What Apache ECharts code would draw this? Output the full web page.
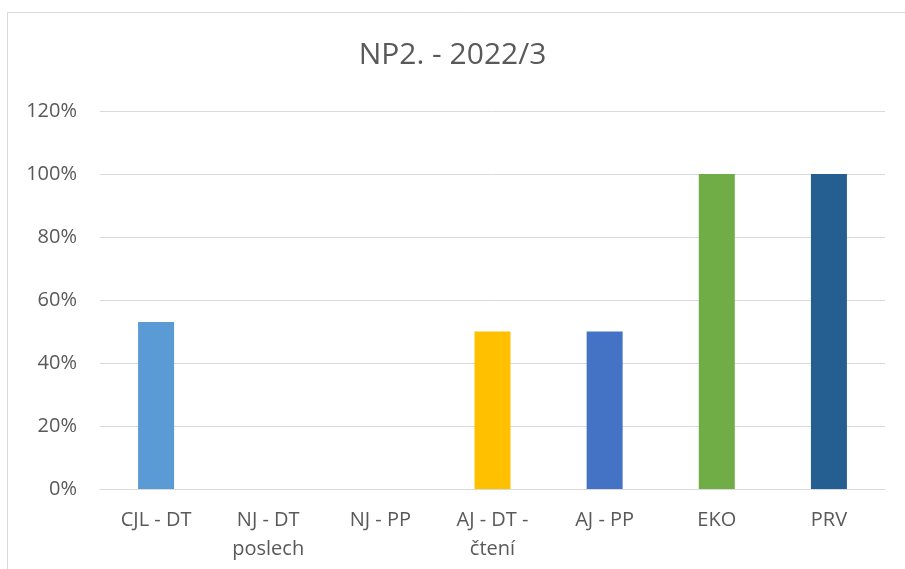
<!DOCTYPE html>
<html>
<head>
<meta charset="utf-8">
<script src="https://cdn.jsdelivr.net/npm/echarts@6/dist/echarts.min.js"></script>
<style>html,body{margin:0;padding:0;background:#fff}#c{width:905px;height:569px}</style>
</head>
<body>
<div id="c"></div>
<script>
const titleText = "NP2. - 2022/3";
const categories = ["CJL - DT", "NJ - DT\nposlech", "NJ - PP", "AJ - DT -\nčtení", "AJ - PP", "EKO", "PRV"];
const values = [53, 0, 0, 50, 50, 100, 100];
const colors = ["#5B9BD5", "#ED7D31", "#A5A5A5", "#FFC000", "#4472C4", "#70AD47", "#255E91"];
const yTicks = [0, 20, 40, 60, 80, 100, 120];

const FONT = "'Open Sans', Lato, sans-serif";
const chart = echarts.init(document.getElementById('c'), null, {renderer: 'canvas'});
chart.setOption({
  animation: false,
  backgroundColor: '#fff',
  title: {
    text: titleText, left: 'center', top: 35,
    textStyle: {fontFamily: FONT, fontSize: 30, fontWeight: 'normal', color: '#595959'}
  },
  graphic: [{
    type: 'rect', shape: {x: 7.5, y: 12.5, width: 920, height: 600},
    style: {fill: 'none', stroke: '#d9d9d9', lineWidth: 1}, silent: true
  }],
  grid: {left: 100, right: 20, top: 111, bottom: 80, containLabel: false},
  xAxis: {
    type: 'category', data: categories,
    axisLine: {lineStyle: {color: '#d9d9d9'}},
    axisTick: {show: false},
    axisLabel: {fontFamily: FONT, fontSize: 20, color: '#595959', margin: 17, lineHeight: 29, interval: 0}
  },
  yAxis: {
    type: 'value', min: yTicks[0], max: yTicks[yTicks.length - 1], interval: 20,
    axisLine: {show: false}, axisTick: {show: false},
    splitLine: {lineStyle: {color: '#d9d9d9', width: 1}},
    axisLabel: {fontFamily: FONT, fontSize: 20, color: '#595959', margin: 23, formatter: v => v + '%'}
  },
  series: [{
    type: 'bar', barWidth: 36,
    data: values.map((v, i) => ({value: v, itemStyle: {color: colors[i]}}))
  }]
});
</script>
</body>
</html>
